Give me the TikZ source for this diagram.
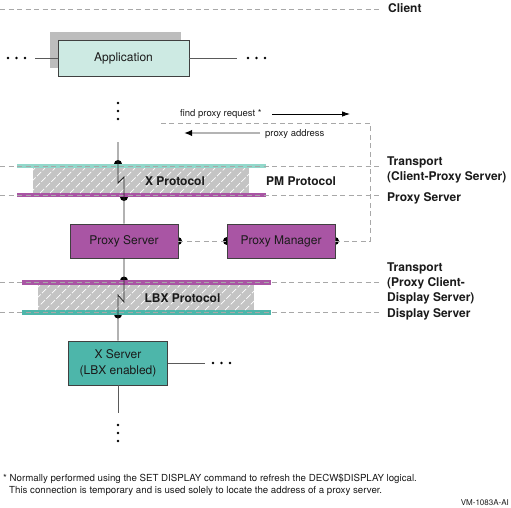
\documentclass[tikz,border=0pt]{standalone}
\usepackage{fontspec}
\setmainfont{TeX Gyre Heros}
\usetikzlibrary{arrows.meta}
\definecolor{appfill}{HTML}{CDEAE3}
\definecolor{shadowg}{HTML}{BDBDBD}
\definecolor{tealL}{HTML}{92D8CB}
\definecolor{tealD}{HTML}{4DB6AA}
\definecolor{purp}{HTML}{A955A4}
\definecolor{hatchg}{HTML}{C4C4C4}
\definecolor{dashg}{HTML}{A8A8A8}
\definecolor{lineg}{HTML}{5A5A5A}
\definecolor{boxline}{HTML}{404040}
\definecolor{arrg}{HTML}{B4B4B4}
\definecolor{txt}{HTML}{1A1A1A}
\begin{document}
\begin{tikzpicture}[x=1pt,y=-1pt,
 box/.style={draw=boxline, line width=0.8pt, inner sep=0pt, align=center, text=txt, font=\fontsize{12}{16}\selectfont},
 bar/.style={inner sep=0pt, draw=none, minimum height=4.5pt},
 hatchbox/.style={inner sep=0pt, fill=hatchg, draw=none, minimum width=216pt, minimum height=25pt},
 guide/.style={draw=dashg, line width=0.6pt, dash pattern=on 5pt off 3.5pt},
 conn/.style={draw=lineg, line width=0.8pt},
 bolt/.style={draw=black!85, line width=0.8pt},
 blbl/.style={anchor=base west, inner sep=0pt, text=txt, font=\fontsize{12}{15}\selectfont\bfseries},
 plbl/.style={inner sep=0pt, text=txt, font=\fontsize{12}{15}\selectfont\bfseries},
 slbl/.style={anchor=base west, inner sep=0pt, text=txt, font=\fontsize{9.5}{11}\selectfont},
 fnote/.style={anchor=base west, inner sep=0pt, text=txt, font=\fontsize{9.7}{12}\selectfont},
 fdot/.style={circle, fill=black, inner sep=0pt, minimum size=2.8pt},
 hatchln/.style={draw=white, line width=0.7pt, dash pattern=on 6pt off 2pt},
]
\useasboundingbox (0,0) rectangle (511,507);

% client guide
\draw[guide] (0,9) -- (382,9);
\node[blbl] (client) at (388,12.3) {Client};

% application
\fill[shadowg] (50,32) rectangle (181,68);
\node[box, fill=appfill, minimum width=131pt, minimum height=36pt] (app) at (123.5,58) {Application};
\node[fdot] (ld1) at (8,58) {};
\node[fdot] (ld2) at (16.5,58) {};
\node[fdot] (ld3) at (25,58) {};
\coordinate (al) at (35,58);
\draw[conn] (al) -- (app.west);
\coordinate (ar) at (237,58);
\draw[conn] (app.east) -- (ar);
\node[fdot] (rd1) at (248,58) {};
\node[fdot] (rd2) at (256.5,58) {};
\node[fdot] (rd3) at (265,58) {};
\node[fdot] (vd1) at (118,103) {};
\node[fdot] (vd2) at (118,111) {};
\node[fdot] (vd3) at (118,119) {};

% upper protocol layer
\fill[black] (118,164) circle (4pt);
\fill[black] (124,197) circle (4pt);
\node[bar, fill=tealL, minimum width=249pt] (tb1) at (141.5,166) {};
\node[bar, fill=purp, minimum width=249pt] (pb1) at (141.5,195.2) {};
\node[hatchbox] (xp) at (141,180.5) {};
\begin{scope}
\clip (33,168.2) rectangle (249,193);
\foreach \x in {10,20,...,260} \draw[hatchln] (\x,193) -- ++(25,-25);
\end{scope}
\draw[guide] (0,166) -- (382,166);
\draw[guide] (0,195.5) -- (382,195.5);
\node[plbl] (xpl) at (175,181) {X Protocol};
\node[blbl] (pml) at (266,185.5) {PM Protocol};
\node[blbl] (t1a) at (387,165.5) {Transport};
\node[blbl] (t1b) at (387,180.5) {(Client-Proxy Server)};
\node[blbl] (t1c) at (387,201.5) {Proxy Server};

% servers
\fill[black] (178,241) circle (4pt);
\fill[black] (227,241) circle (4pt);
\fill[black] (335,241) circle (4pt);
\node[box, fill=purp, minimum width=108pt, minimum height=34pt] (ps) at (124,241) {Proxy Server};
\node[box, fill=purp, minimum width=108pt, minimum height=34pt] (pm) at (281,241) {Proxy Manager};
\coordinate (xtop) at (118,142);
\draw[bolt] (xtop) -- (118,183) -- (124,177) -- (ps.north);
\draw[guide] (ps.east) -- (pm.west);
\coordinate (c1) at (370,241);
\coordinate (c2) at (370,123);
\coordinate (c3) at (160,123);
\draw[guide] (pm.east) -- (c1) -- (c2) -- (c3);

% request / address arrows
\node[slbl] (fpr) at (180,116) {find proxy request *};
\coordinate (a1) at (272,114);
\coordinate (a2) at (350,114);
\draw[black, line width=0.8pt, -{Latex[length=8pt,width=5.5pt]}] (a1) -- (a2);
\node[slbl] (pa) at (265,136.5) {proxy address};
\coordinate (b1) at (260,133);
\coordinate (b2) at (184,133);
\draw[draw=arrg, line width=2pt, -{Latex[length=8pt,width=6.5pt,color=black]}] (b1) -- (b2);

% lower protocol layer
\fill[black] (124,280.5) circle (4pt);
\fill[black] (118,314.5) circle (4pt);
\node[bar, fill=purp, minimum width=249pt, minimum height=5pt] (pb2) at (146.5,282.5) {};
\node[bar, fill=tealD, minimum width=249pt, minimum height=5pt] (tb2) at (146.5,312.5) {};
\node[hatchbox] (lbx) at (146,297.5) {};
\begin{scope}
\clip (38,285) rectangle (254,310);
\foreach \x in {15,25,...,265} \draw[hatchln] (\x,310) -- ++(25,-25);
\end{scope}
\draw[guide] (0,282.5) -- (382,282.5);
\draw[guide] (0,312.5) -- (382,312.5);
\node[plbl] (lbxl) at (182.5,298.5) {LBX Protocol};
\node[blbl] (t2a) at (387,271.5) {Transport};
\node[blbl] (t2b) at (387,286.5) {(Proxy Client-};
\node[blbl] (t2c) at (387,301.5) {Display Server)};
\node[blbl] (t2d) at (387,317) {Display Server};

% X server
\node[box, fill=tealD, minimum width=99pt, minimum height=44pt] (xs) at (118,363) {X Server\\(LBX enabled)};
\draw[bolt] (ps.south) -- (124,302) -- (118,295) -- (xs.north);
\coordinate (xr) at (205,363);
\draw[conn] (xs.east) -- (xr);
\node[fdot] (xd1) at (213,363) {};
\node[fdot] (xd2) at (221.5,363) {};
\node[fdot] (xd3) at (230,363) {};
\coordinate (xb) at (118,413);
\draw[conn] (xs.south) -- (xb);
\node[fdot] (bd1) at (118,425) {};
\node[fdot] (bd2) at (118,433) {};
\node[fdot] (bd3) at (118,441) {};

% footnote
\node[fnote] (fn1) at (3,481) {* Normally performed using the SET DISPLAY command to refresh the DECW\$DISPLAY logical.};
\node[fnote] (fn2) at (9,493) {This connection is temporary and is used solely to locate the address of a proxy server.};
\node[anchor=base east, inner sep=0pt, text=txt, font=\fontsize{8}{10}\selectfont] (vm) at (509,505.5) {VM-1083A-AI};
\end{tikzpicture}
\end{document}
